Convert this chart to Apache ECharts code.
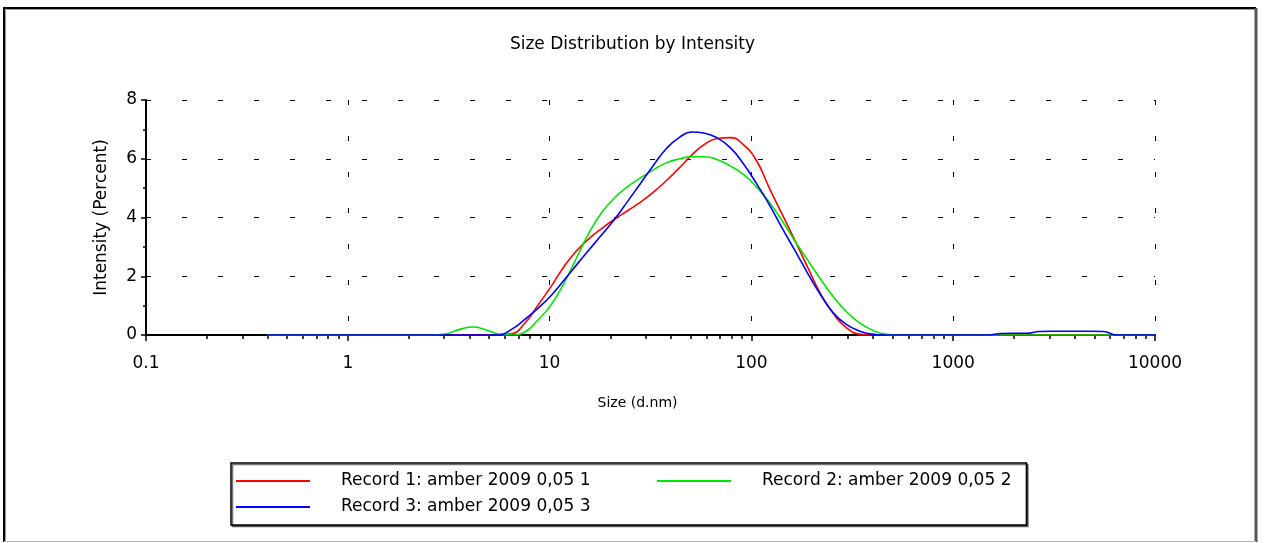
<!DOCTYPE html>
<html>
<head>
<meta charset="utf-8">
<script src="https://cdn.jsdelivr.net/npm/echarts@6/dist/echarts.min.js"></script>
<style>
  html, body { margin: 0; padding: 0; background: #fff; }
  #chart { width: 1265px; height: 543px; }
</style>
</head>
<body>
<div id="chart"></div>
<script>
// Size classes (d.nm) of the distribution, 70 log-spaced bins from 0.4 to 10000 nm
const sizes = [
  0.4, 0.4632, 0.5365, 0.6213, 0.7195, 0.8332, 0.9649, 1.117, 1.294, 1.499,
  1.736, 2.01, 2.328, 2.696, 3.122, 3.615, 4.187, 4.849, 5.615, 6.503,
  7.531, 8.721, 10.1, 11.7, 13.54, 15.69, 18.17, 21.04, 24.36, 28.21,
  32.67, 37.84, 43.82, 50.75, 58.77, 68.06, 78.82, 91.28, 105.7, 122.4,
  141.8, 164.2, 190.1, 220.2, 255.0, 295.3, 342.0, 396.1, 458.7, 531.2,
  615.1, 712.4, 825.0, 955.4, 1106, 1281, 1484, 1718, 1990, 2305,
  2669, 3091, 3580, 4145, 4801, 5560, 6439, 7456, 8635, 10000
];

// Intensity (%) per size class for each record
const record1 = [
  0, 0, 0, 0, 0, 0, 0, 0, 0, 0,
  0, 0, 0, 0, 0, 0, 0, 0, 0, 0.04,
  0.4, 1.0, 1.62, 2.3, 2.85, 3.28, 3.63, 3.95, 4.23, 4.52,
  4.86, 5.25, 5.68, 6.13, 6.5, 6.69, 6.72, 6.48, 5.95, 5.02,
  4.12, 3.22, 2.3, 1.4, 0.72, 0.25, 0.03, 0, 0, 0,
  0, 0, 0, 0, 0, 0, 0, 0, 0, 0,
  0, 0, 0, 0, 0, 0, 0, 0, 0, 0
];
const record2 = [
  0, 0, 0, 0, 0, 0, 0, 0, 0, 0,
  0, 0, 0, 0, 0.05, 0.2, 0.27, 0.17, 0.03, 0,
  0.1, 0.5, 1.0, 1.72, 2.6, 3.48, 4.18, 4.68, 5.05, 5.35,
  5.62, 5.86, 5.99, 6.07, 6.07, 5.97, 5.75, 5.47, 5.05, 4.53,
  3.9, 3.2, 2.55, 1.9, 1.3, 0.8, 0.42, 0.17, 0.03, 0,
  0, 0, 0, 0, 0, 0, 0, 0, 0, 0,
  0, 0, 0, 0, 0, 0, 0, 0, 0, 0
];
const record3 = [
  0, 0, 0, 0, 0, 0, 0, 0, 0, 0,
  0, 0, 0, 0, 0, 0, 0, 0, 0, 0.2,
  0.53, 0.9, 1.32, 1.84, 2.37, 2.9, 3.42, 3.95, 4.55, 5.16,
  5.77, 6.34, 6.72, 6.91, 6.87, 6.7, 6.37, 5.83, 5.17, 4.45,
  3.65, 2.88, 2.1, 1.37, 0.75, 0.36, 0.14, 0.03, 0, 0,
  0, 0, 0, 0, 0, 0, 0, 0.05, 0.06, 0.06,
  0.12, 0.13, 0.13, 0.13, 0.13, 0.12, 0, 0, 0, 0
];

const seriesNames = [
  'Record 1: amber 2009 0,05 1',
  'Record 2: amber 2009 0,05 2',
  'Record 3: amber 2009 0,05 3'
];
const seriesColors = ['#ff0000', '#00e600', '#0000ff'];
const xTickLabels = ['0.1', '1', '10', '100', '1000', '10000'];
const yTicks = [0, 2, 4, 6, 8];

const FONT = 'DejaVu Sans';

// minor tick positions (2..9 within each decade), in log10 units
const minorLogTicks = [];
for (let d = -1; d < 4; d++) {
  for (let m = 2; m <= 9; m++) minorLogTicks.push(d + Math.log10(m));
}

function pairs(values) {
  return sizes.map((s, i) => [s, values[i]]);
}

const chart = echarts.init(document.getElementById('chart'), null, { renderer: 'canvas' });

const dashed = { color: '#000', width: 1, type: [5, 31] };

chart.setOption({
  animation: false,
  backgroundColor: '#fff',
  title: {
    text: 'Size Distribution by Intensity',
    left: 'center',
    top: 36,
    padding: 0,
    textStyle: { fontFamily: FONT, fontSize: 17, fontWeight: 'normal', color: '#000' }
  },
  grid: { left: 146, top: 100, width: 1009, height: 235, containLabel: false },
  xAxis: [
    {
      type: 'log',
      logBase: 10,
      min: 0.1,
      max: 10000,
      splitNumber: 5,
      name: 'Size (d.nm)',
      nameLocation: 'middle',
      nameGap: 61,
      nameTextStyle: { fontFamily: FONT, fontSize: 14, color: '#000', padding: [0, 26, 0, 0] },
      axisLine: { show: true, onZero: false, lineStyle: { color: '#000', width: 2 } },
      axisTick: { show: true, length: 6, lineStyle: { color: '#000', width: 1.5 } },
      minorTick: { show: false },
      axisLabel: {
        fontFamily: FONT, fontSize: 17, color: '#000', margin: 20,
        formatter: v => {
          const i = Math.round(Math.log10(v)) + 1;
          return xTickLabels[i] !== undefined ? xTickLabels[i] : String(v);
        }
      },
      splitLine: { show: true, lineStyle: dashed }
    },
    {
      // carries the small ticks at 2..9 of every decade
      type: 'value',
      gridIndex: 0,
      position: 'bottom',
      min: -1,
      max: 4,
      axisLine: { show: false, onZero: false },
      axisLabel: { show: false },
      splitLine: { show: false },
      axisTick: {
        show: true,
        length: 4,
        customValues: minorLogTicks,
        lineStyle: { color: '#000', width: 1.5 }
      }
    }
  ],
  yAxis: {
    type: 'value',
    min: 0,
    max: 8,
    interval: 2,
    name: 'Intensity (Percent)',
    nameLocation: 'middle',
    nameGap: 36,
    nameTextStyle: { fontFamily: FONT, fontSize: 17, color: '#000' },
    axisLine: { show: true, onZero: false, lineStyle: { color: '#000', width: 2 } },
    axisTick: { show: true, length: 5, lineStyle: { color: '#000', width: 1.5 } },
    minorTick: { show: true, splitNumber: 2, length: 3, lineStyle: { color: '#000', width: 1.5 } },
    axisLabel: {
      fontFamily: FONT, fontSize: 17, color: '#000', margin: 9,
      formatter: v => (yTicks.indexOf(v) >= 0 ? String(v) : '')
    },
    splitLine: { show: true, lineStyle: dashed }
  },
  legend: {
    left: 231,
    top: 463,
    orient: 'horizontal',
    width: 790,
    padding: [9, 15, 9, 5],
    itemGap: 8,
    itemWidth: 74,
    itemHeight: 2,
    icon: 'rect',
    borderColor: '#000',
    borderWidth: 1.5,
    backgroundColor: '#fff',
    shadowColor: 'rgba(0,0,0,0.55)',
    shadowOffsetX: 1.5,
    shadowOffsetY: 1.5,
    shadowBlur: 0,
    data: seriesNames,
    formatter: name => (name === seriesNames[0] ? '{w|' + name + '}' : name),
    textStyle: {
      fontFamily: FONT, fontSize: 17, color: '#000', lineHeight: 18,
      padding: [0, 0, 0, 26],
      rich: { w: { width: 308, fontFamily: FONT, fontSize: 17, color: '#000' } }
    }
  },
  series: [record1, record2, record3].map((vals, i) => ({
    name: seriesNames[i],
    type: 'line',
    xAxisIndex: 0,
    data: pairs(vals),
    symbol: 'none',
    smooth: 0.5,
    color: seriesColors[i],
    itemStyle: { color: seriesColors[i] },
    lineStyle: { color: seriesColors[i], width: 1.6 },
    z: 3 + i
  })),
  graphic: [
    { type: 'polyline', silent: true, z: 100,
      shape: { points: [[4, 542], [4, 8], [1256, 8]] },
      style: { stroke: '#000', lineWidth: 2, fill: null } },
    { type: 'polyline', silent: true, z: 100,
      shape: { points: [[5.5, 541], [5.5, 9.5], [1255, 9.5]] },
      style: { stroke: '#9a9a9a', lineWidth: 1, fill: null } },
    { type: 'line', silent: true, z: 100,
      shape: { x1: 1256, y1: 8, x2: 1256, y2: 542 },
      style: { stroke: '#555', lineWidth: 3 } },
    { type: 'line', silent: true, z: 100,
      shape: { x1: 4, y1: 541.5, x2: 1256, y2: 541.5 },
      style: { stroke: '#b5b5b5', lineWidth: 1 } }
  ]
});
</script>
</body>
</html>
